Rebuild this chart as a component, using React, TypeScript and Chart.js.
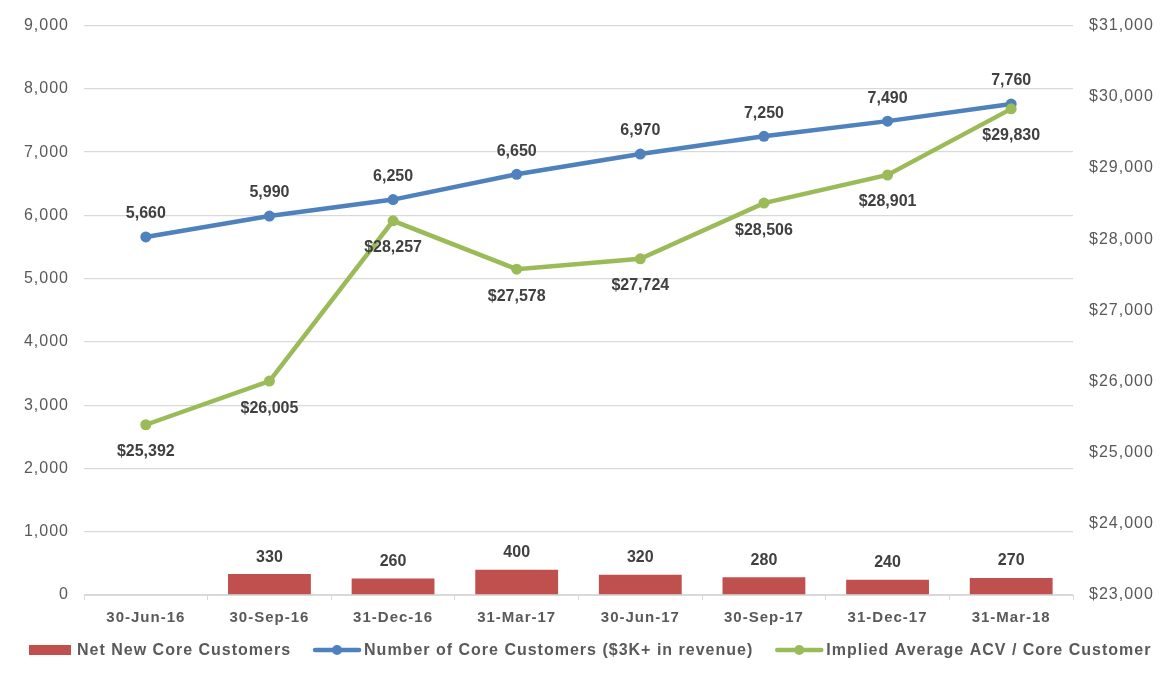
import React, { useEffect, useRef } from 'react';
import { Chart, registerables } from 'chart.js';

Chart.register(...registerables);

const categories = ['30-Jun-16', '30-Sep-16', '31-Dec-16', '31-Mar-17', '30-Jun-17', '30-Sep-17', '31-Dec-17', '31-Mar-18'];
const netNewCore: (number | null)[] = [null, 330, 260, 400, 320, 280, 240, 270];
const coreCustomers = [5660, 5990, 6250, 6650, 6970, 7250, 7490, 7760];
const avgAcv = [25392, 26005, 28257, 27578, 27724, 28506, 28901, 29830];
const seriesNames = ['Net New Core Customers', 'Number of Core Customers ($3K+ in revenue)', 'Implied Average ACV / Core Customer'];

const RED = '#C0504D';
const BLUE = '#4F81BD';
const GREEN = '#9BBB59';
const FONT = "'Liberation Sans', Arial, sans-serif";

const fmt = (v: number) => v.toLocaleString('en-US');

const spacingPlugin = {
  id: 'spacing',
  beforeDraw(chart: any) {
    (chart.ctx as any).letterSpacing = '1px';
  },
};

const labelsPlugin = {
  id: 'dataLabels',
  afterDatasetsDraw(chart: any) {
    const ctx = chart.ctx;
    ctx.save();
    (ctx as any).letterSpacing = '0px';
    ctx.font = `bold 16px ${FONT}`;
    ctx.fillStyle = '#404040';
    ctx.textAlign = 'center';
    ctx.textBaseline = 'middle';
    chart.data.datasets.forEach((ds: any, di: number) => {
      const meta = chart.getDatasetMeta(di);
      meta.data.forEach((el: any, i: number) => {
        const v = ds.data[i];
        if (v == null) return;
        let text = '';
        let dy = 0;
        if (di === 0) { text = fmt(v); dy = -17; }
        else if (di === 1) { text = fmt(v); dy = -23; }
        else { text = '$' + fmt(v); dy = 27; }
        ctx.fillText(text, el.x, el.y + dy);
      });
    });
    ctx.restore();
  },
};

const legendPlugin = {
  id: 'customLegend',
  afterDraw(chart: any) {
    const ctx = chart.ctx;
    ctx.save();
    (ctx as any).letterSpacing = '1px';
    ctx.font = `bold 16px ${FONT}`;
    ctx.textBaseline = 'middle';
    ctx.textAlign = 'left';
    const y = 650;
    let x = 29;
    const colors = [RED, BLUE, GREEN];
    seriesNames.forEach((name, i) => {
      if (i === 0) {
        ctx.fillStyle = colors[i];
        ctx.fillRect(x, y - 5, 42, 10);
        x += 48;
      } else {
        ctx.strokeStyle = colors[i];
        ctx.lineWidth = 4.5;
        ctx.lineCap = 'round';
        ctx.beginPath();
        ctx.moveTo(x + 1, y);
        ctx.lineTo(x + 45, y);
        ctx.stroke();
        ctx.fillStyle = colors[i];
        ctx.beginPath();
        ctx.arc(x + 23, y, 5, 0, Math.PI * 2);
        ctx.fill();
        x += 50;
      }
      ctx.fillStyle = '#595959';
      ctx.fillText(name, x, y + 1);
      x += ctx.measureText(name).width + 23;
    });
    ctx.restore();
  },
};

export default function App() {
  const ref = useRef<HTMLCanvasElement | null>(null);

  useEffect(() => {
    if (!ref.current) return;
    Chart.defaults.font.family = FONT;
    const chart = new Chart(ref.current, {
      type: 'bar',
      data: {
        labels: categories,
        datasets: [
          {
            type: 'bar',
            label: seriesNames[0],
            data: netNewCore,
            backgroundColor: RED,
            yAxisID: 'y',
            barPercentage: 0.67,
            categoryPercentage: 1,
            order: 3,
          },
          {
            type: 'line',
            label: seriesNames[1],
            data: coreCustomers,
            borderColor: BLUE,
            backgroundColor: BLUE,
            borderWidth: 4.5,
            pointRadius: 5.5,
            pointBackgroundColor: BLUE,
            pointBorderWidth: 0,
            yAxisID: 'y',
            order: 2,
          },
          {
            type: 'line',
            label: seriesNames[2],
            data: avgAcv,
            borderColor: GREEN,
            backgroundColor: GREEN,
            borderWidth: 4.5,
            pointRadius: 5.5,
            pointBackgroundColor: GREEN,
            pointBorderWidth: 0,
            yAxisID: 'y1',
            order: 1,
          },
        ] as any,
      },
      options: {
        animation: false,
        responsive: true,
        maintainAspectRatio: false,
        layout: { padding: { top: 24, left: 0, right: 0, bottom: 0 } },
        plugins: {
          legend: { display: false },
          tooltip: { enabled: false },
        },
        scales: {
          x: {
            type: 'category',
            grid: {
              display: true,
              drawOnChartArea: false,
              drawTicks: true,
              tickLength: 5,
              color: '#d9d9d9',
              offset: true,
            },
            border: { color: '#d9d9d9', width: 1 },
            ticks: {
              color: '#595959',
              font: { size: 15, weight: 'bold', family: FONT },
              padding: 9,
              maxRotation: 0,
              autoSkip: false,
            },
            afterFit: (s: any) => { s.height = 87; },
          },
          y: {
            position: 'left',
            min: 0,
            max: 9000,
            ticks: {
              stepSize: 1000,
              color: '#595959',
              font: { size: 16, family: FONT },
              padding: 15,
              callback: (v: any) => fmt(Number(v)),
            },
            grid: { color: '#d9d9d9', lineWidth: 1.3, drawTicks: false },
            border: { display: false },
            afterFit: (s: any) => { s.width = 84; },
          },
          y1: {
            position: 'right',
            min: 23000,
            max: 31000,
            ticks: {
              stepSize: 1000,
              color: '#595959',
              font: { size: 16, family: FONT },
              padding: 16,
              callback: (v: any) => '$' + fmt(Number(v)),
            },
            grid: { drawOnChartArea: false, drawTicks: false },
            border: { display: false },
            afterFit: (s: any) => { s.width = 99; },
          },
        } as any,
      },
      plugins: [spacingPlugin, labelsPlugin, legendPlugin],
    });
    return () => chart.destroy();
  }, []);

  return (
    <div style={{ position: 'absolute', left: 0, top: 0, width: 1172, height: 682, background: '#fff' }}>
      <canvas ref={ref} />
    </div>
  );
}
